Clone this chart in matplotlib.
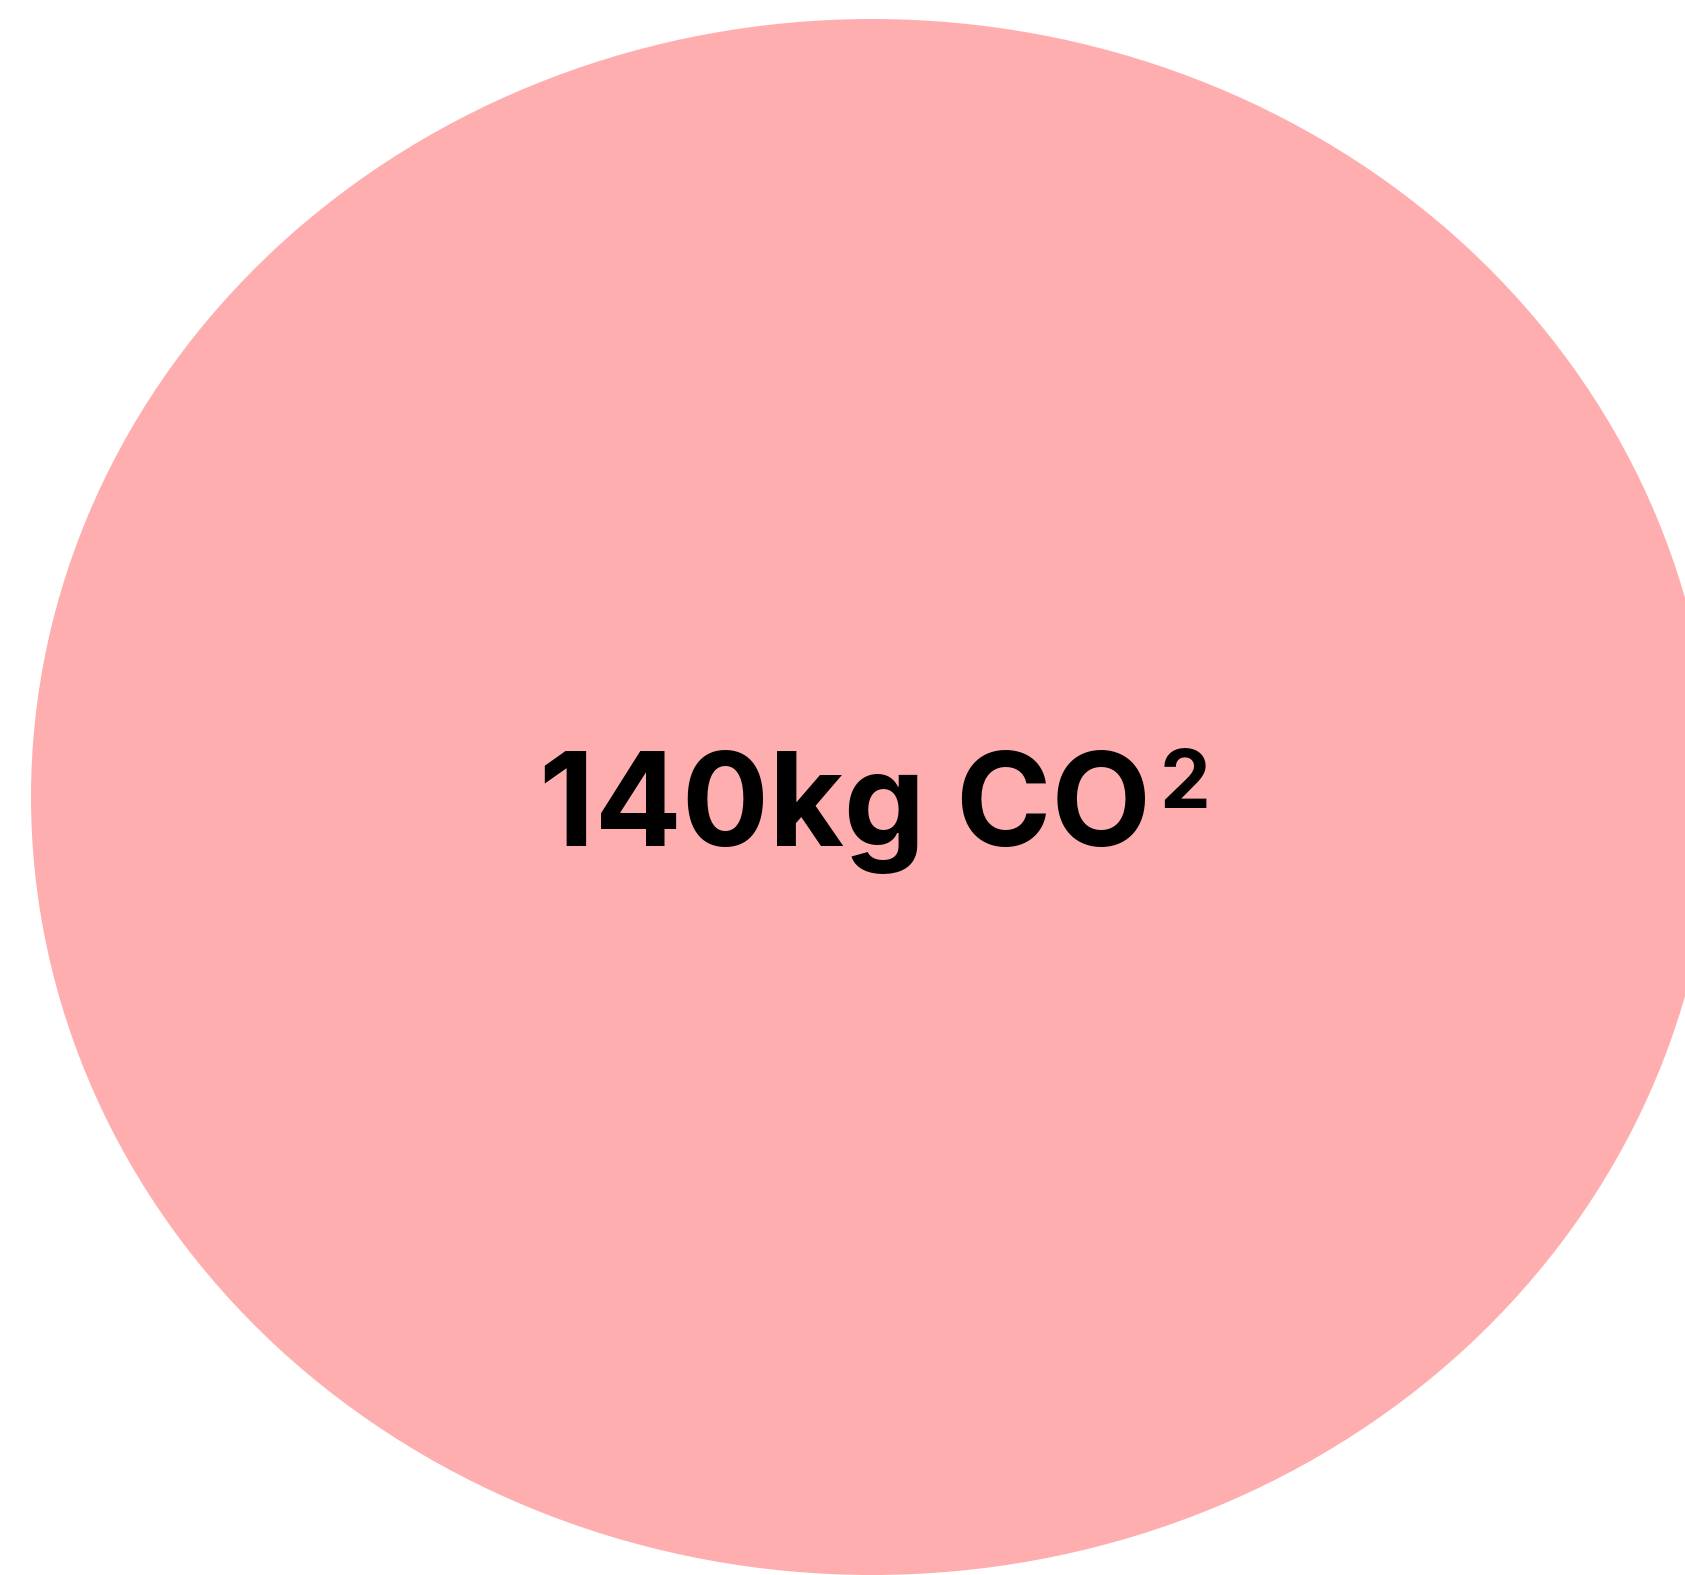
import matplotlib.pyplot as plt
from matplotlib.patches import Ellipse

# Data: a single bubble for the footprint value.
values = [140]
units = ['kg CO']
unit_sup = ['2']

FILL = '#ffaeb0'
W, H = 1685, 1575  # output size in pixels (dpi 100)

# Bubble geometry in pixel units (layout only).
CENTER = (872, 797)
RADII = (841, 778)
FONT = ['Inter', 'Liberation Sans', 'DejaVu Sans']


def main():
    fig = plt.figure(figsize=(W / 100, H / 100), dpi=100)
    ax = fig.add_axes([0, 0, 1, 1])
    ax.set_xlim(0, W)
    ax.set_ylim(H, 0)
    ax.axis('off')

    for v, u, s in zip(values, units, unit_sup):
        bubble = Ellipse(CENTER, 2 * RADII[0], 2 * RADII[1],
                         facecolor=FILL, edgecolor='none')
        ax.add_patch(bubble)

        main_txt = ax.text(845, 846, f'{v}{u}', ha='center', va='baseline',
                           fontsize=93, fontweight='bold',
                           family=FONT, color='black')
        ax.annotate(s, xy=(1, 1), xycoords=main_txt,
                    xytext=(6, 1), textcoords='offset points',
                    ha='left', va='top', fontsize=58, fontweight='bold',
                    family=FONT, color='black')

    fig.savefig('out.png', dpi=100)


if __name__ == '__main__':
    main()
